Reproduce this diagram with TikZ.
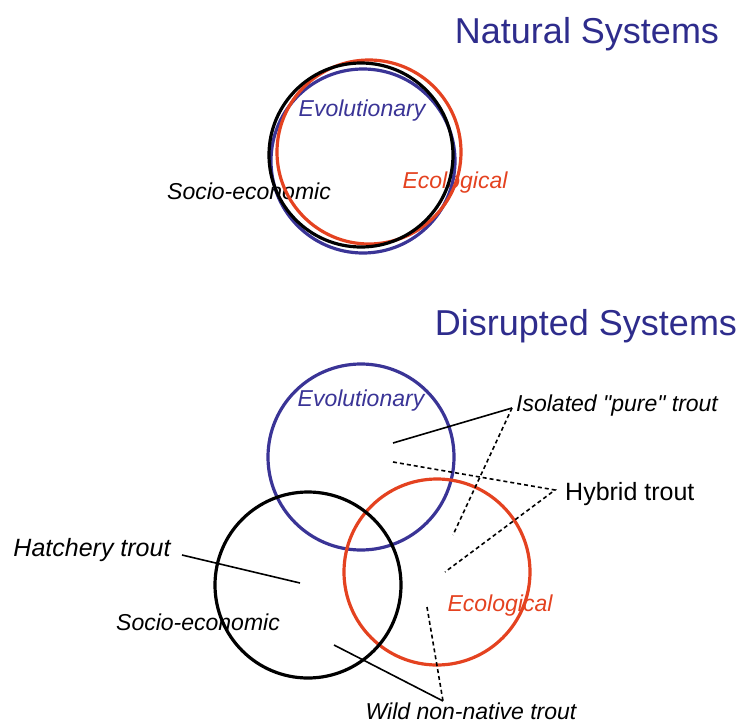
\documentclass[tikz,border=0pt]{standalone}
\usepackage{fontspec}
\setmainfont{Liberation Sans}
\usetikzlibrary{positioning}
\definecolor{evoblue}{RGB}{58,52,150}
\definecolor{headblue}{RGB}{46,44,140}
\definecolor{ecored}{RGB}{228,66,32}

\begin{document}
\begin{tikzpicture}[x=1pt, y=-1pt,
    ring/.style={line width=3.2pt},
    lbl/.style={font=\fontsize{23}{23}\selectfont\itshape, inner sep=0pt},
    heading/.style={font=\fontsize{36}{36}\selectfont, text=headblue, anchor=base, inner sep=0pt},
    lead/.style={line width=1.6pt},
    leaddash/.style={line width=1.6pt, dash pattern=on 4pt off 3pt}]
    \useasboundingbox (0,0) rectangle (742,723);

    % natural systems
    \node[heading] (natural) at (587,43) {Natural Systems};
    \node[lbl, text=evoblue] (evoTop) at (362,111) {Evolutionary};
    \node[lbl, text=ecored] (ecoTop) at (455,183) {Ecological};
    \node[lbl] (socTop) at (249,191) {Socio-economic};
    \draw[ring, evoblue] (363,161) circle[radius=92];
    \draw[ring, ecored] (369,152) circle[radius=92];
    \draw[ring, black] (361,155) circle[radius=92];

    % disrupted systems
    \node[heading] (disrupted) at (586,335) {Disrupted Systems};
    \node[lbl, text=evoblue] (evoBot) at (361,401) {Evolutionary};
    \node[lbl, text=ecored] (ecoBot) at (500,606) {Ecological};
    \node[lbl] (socBot) at (198,622) {Socio-economic};
    \draw[ring, evoblue] (361,457) circle[radius=93];
    \draw[ring, ecored] (437,572) circle[radius=93];
    \draw[ring, black] (308,585) circle[radius=93];

    \node[lbl, anchor=west] (iso) at (516,406) {Isolated \textquotedbl pure\textquotedbl\ trout};
    \node[font=\fontsize{25}{25}\selectfont, anchor=west, inner sep=0pt] (hyb) at (565,494) {Hybrid trout};
    \node[lbl, font=\fontsize{25}{25}\selectfont\itshape] (hat) at (92,550) {Hatchery trout};
    \node[lbl, anchor=base] (wild) at (471,719) {Wild non-native trout};

    \coordinate (isoTip) at (512,408);
    \coordinate (isoA) at (393,443);
    \coordinate (isoB) at (453,535);
    \coordinate (hybTip) at (555,490);
    \coordinate (hybA) at (393,462);
    \coordinate (hybB) at (445,572);
    \coordinate (hatTip) at (182,555);
    \coordinate (hatA) at (300,583);
    \coordinate (wildTip) at (443,701);
    \coordinate (wildA) at (334,645);
    \coordinate (wildB) at (427,607);

    \draw[lead] (isoA) -- (isoTip);
    \draw[leaddash] (isoTip) -- (isoB);
    \draw[leaddash] (hybA) -- (hybTip) -- (hybB);
    \draw[lead] (hatTip) -- (hatA);
    \draw[lead] (wildA) -- (wildTip);
    \draw[leaddash] (wildB) -- (wildTip);
\end{tikzpicture}
\end{document}
